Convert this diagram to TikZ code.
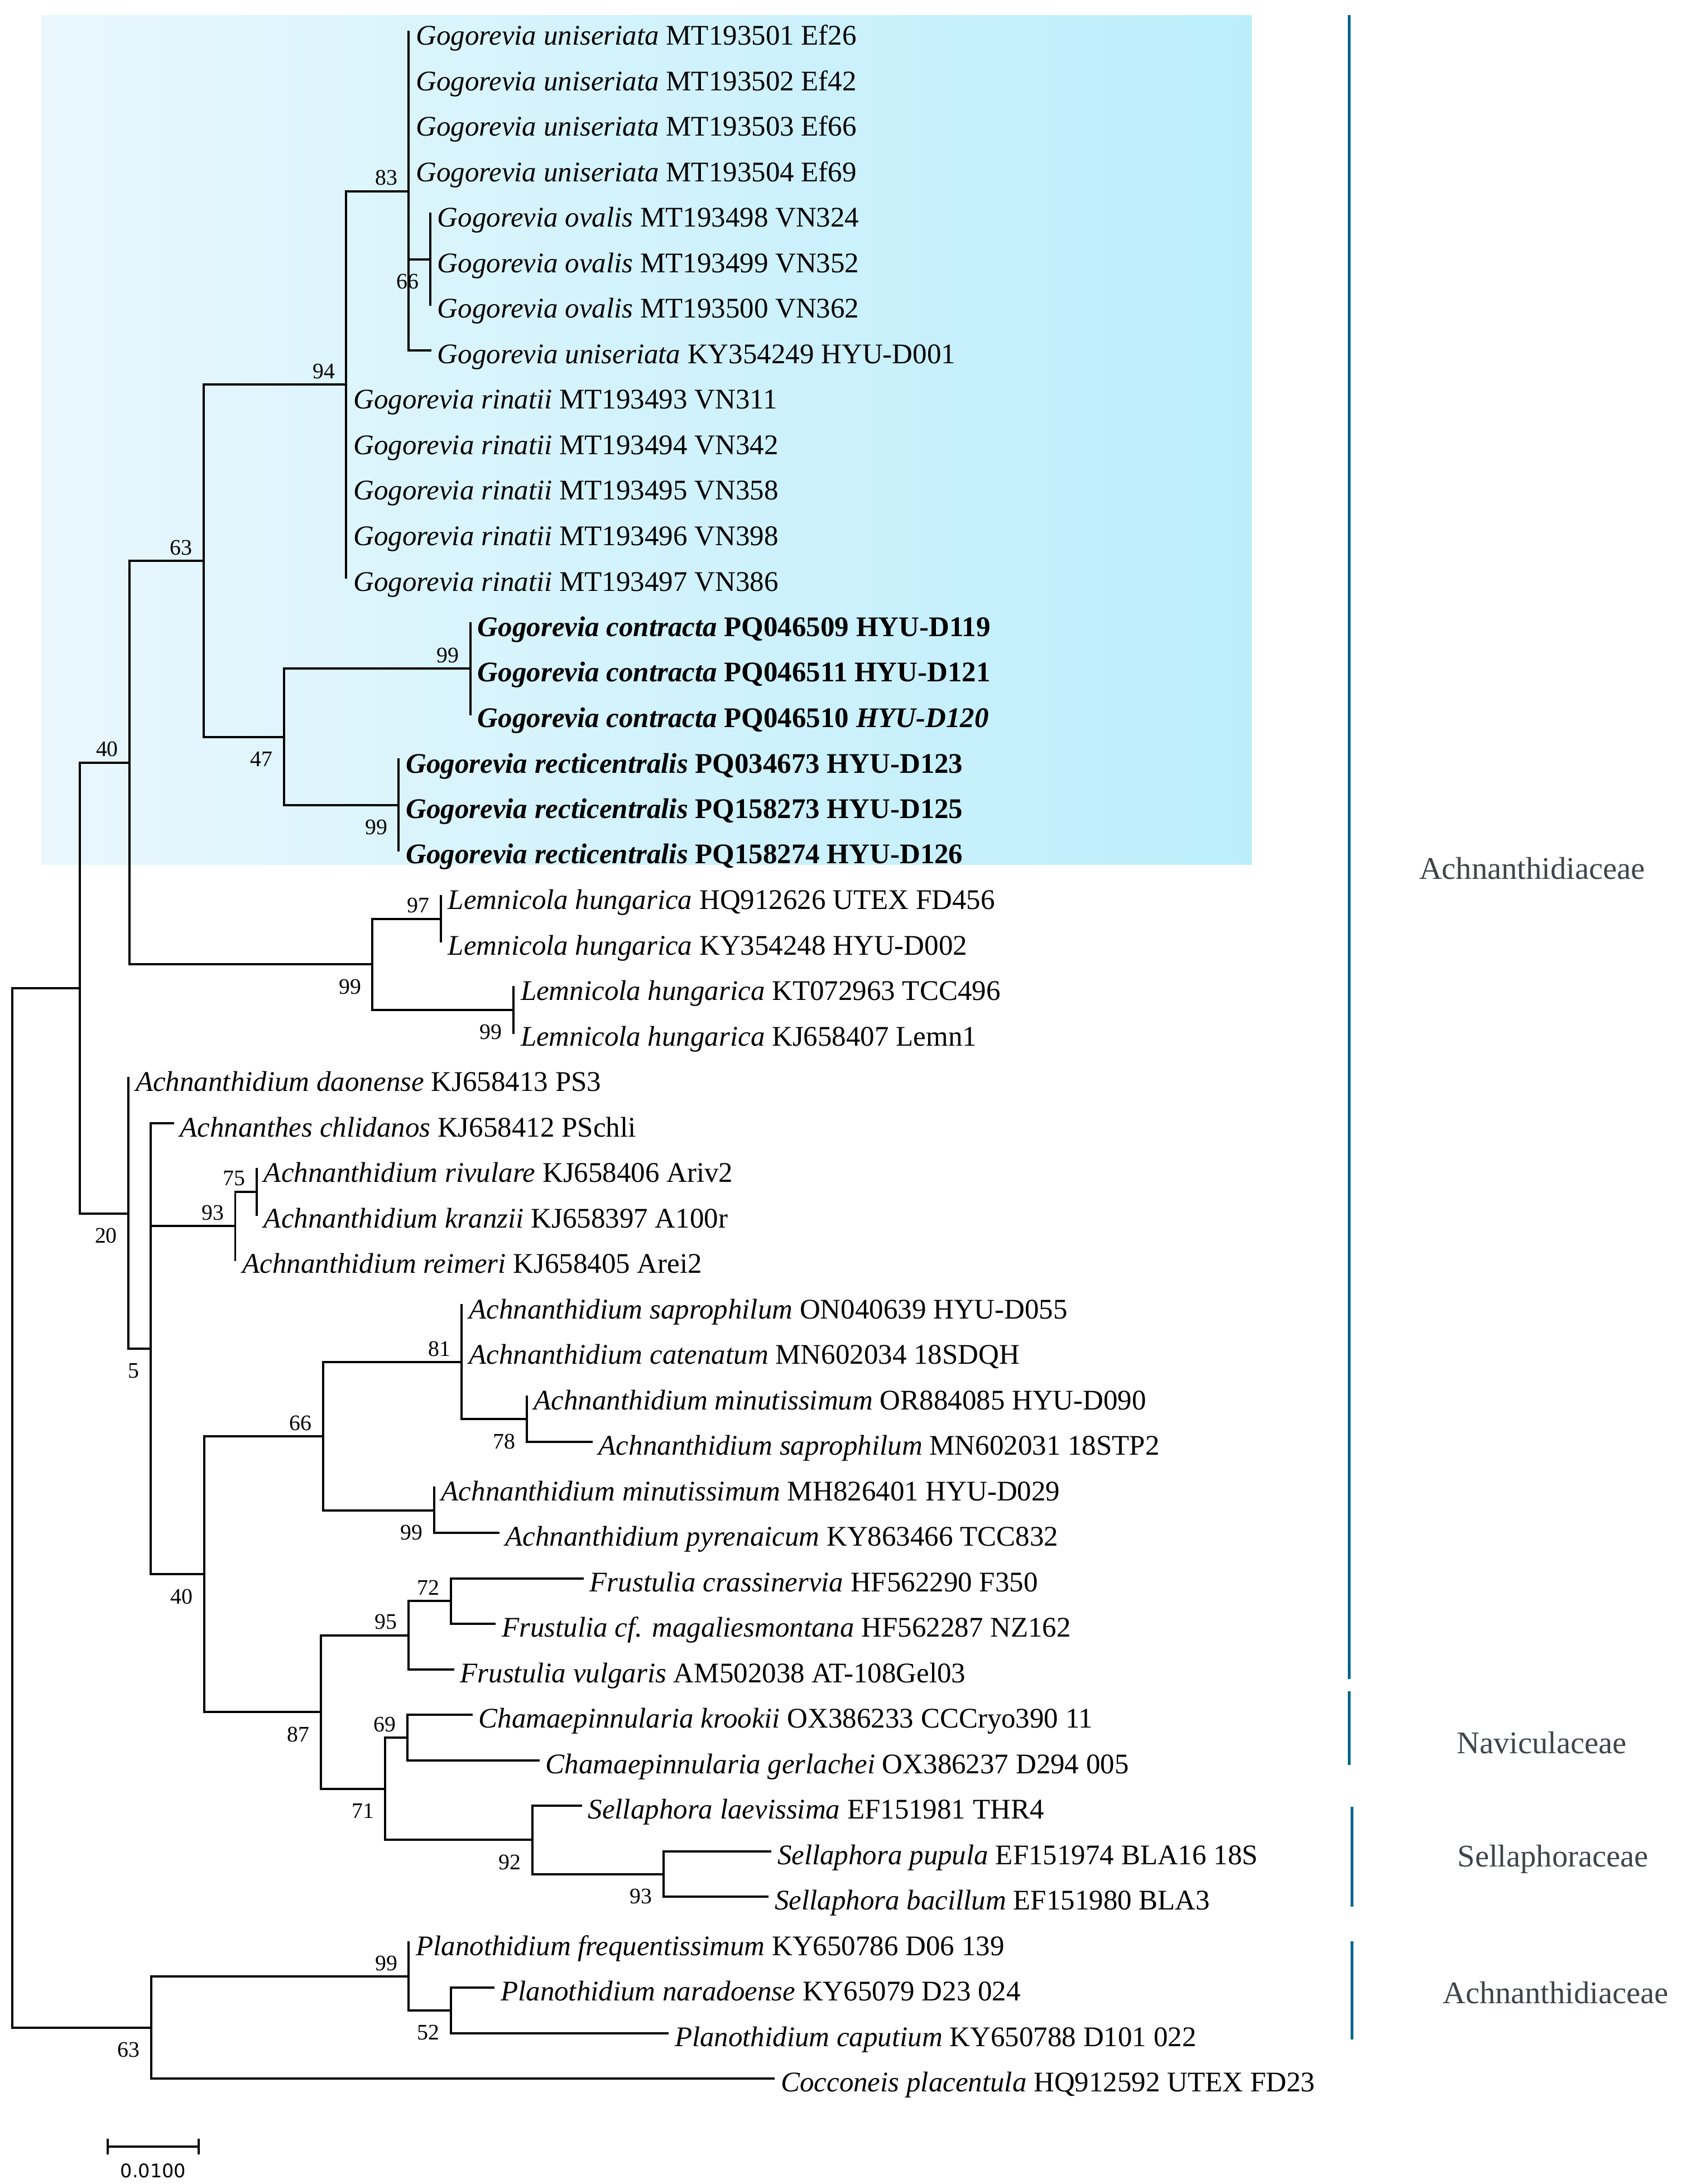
\documentclass[tikz,border=0pt]{standalone}
\usepackage{fontspec}
\setmainfont{Liberation Serif}
\newfontfamily\barfont{DejaVu Sans}

\definecolor{hlleft}{RGB}{233,247,253}
\definecolor{hlright}{RGB}{187,238,251}
\definecolor{clade}{RGB}{0,102,141}
\definecolor{famtext}{RGB}{64,68,74}

\tikzset{
	branch/.style={line width=1.6pt, line cap=rect},
	taxon/.style={anchor=base west, inner sep=0pt, xshift=5pt, yshift=-9.5pt, font=\fontsize{20.5}{24}\selectfont},
	bsup/.style={anchor=south east, inner sep=0pt, xshift=-8pt, yshift=4pt, font=\fontsize{16}{19}\selectfont},
	bsdown/.style={anchor=north east, inner sep=0pt, xshift=-8pt, yshift=-10.5pt, font=\fontsize{16}{19}\selectfont},
	cladebar/.style={draw=clade, line width=2pt},
	family/.style={inner sep=0pt, text=famtext, font=\fontsize{22.7}{26}\selectfont}
}

\begin{document}
\begin{tikzpicture}[x=1pt,y=-1pt]
		\useasboundingbox (0,0) rectangle (1211,1574);
		% highlighted Gogorevia clade
		\shade[left color=hlleft, right color=hlright] (30,11) rectangle (902,623);
		
		\begin{scope}[shift={(0,4)}]
		% tips
		\coordinate (l1) at (294.5,19.0);   \coordinate (l2) at (294.5,51.8);
		\coordinate (l3) at (294.5,84.6);   \coordinate (l4) at (294.5,117.3);
		\coordinate (l5) at (310,150.1);    \coordinate (l6) at (310,182.9);
		\coordinate (l7) at (310,215.7);    \coordinate (l8) at (310,248.5);
		\coordinate (l9) at (249.5,281.2);  \coordinate (l10) at (249.5,314.0);
		\coordinate (l11) at (249.5,346.8); \coordinate (l12) at (249.5,379.6);
		\coordinate (l13) at (249.5,412.4); \coordinate (l14) at (339,445.1);
		\coordinate (l15) at (339,477.9);   \coordinate (l16) at (339,510.7);
		\coordinate (l17) at (287.3,543.5); \coordinate (l18) at (287.3,576.3);
		\coordinate (l19) at (287.3,609.0); \coordinate (l20) at (317.7,641.8);
		\coordinate (l21) at (317.7,674.6); \coordinate (l22) at (370,707.4);
		\coordinate (l23) at (370,740.2);   \coordinate (l24) at (92.6,772.9);
		\coordinate (l25) at (124.5,805.7); \coordinate (l26) at (185,838.5);
		\coordinate (l27) at (185,871.3);   \coordinate (l28) at (169.5,904.1);
		\coordinate (l29) at (332.7,936.8); \coordinate (l30) at (332.7,969.6);
		\coordinate (l31) at (379.5,1002.4); \coordinate (l32) at (426.2,1035.2);
		\coordinate (l33) at (312.8,1068.0); \coordinate (l34) at (359,1100.7);
		\coordinate (l35) at (419.8,1133.5); \coordinate (l36) at (356.4,1166.3);
		\coordinate (l37) at (326.4,1199.1); \coordinate (l38) at (339.7,1231.9);
		\coordinate (l39) at (388,1264.6);   \coordinate (l40) at (418.5,1297.4);
		\coordinate (l41) at (555,1330.2);   \coordinate (l42) at (553,1363.0);
		\coordinate (l43) at (294.5,1395.8); \coordinate (l44) at (355.6,1428.5);
		\coordinate (l45) at (481,1461.3);   \coordinate (l46) at (557.5,1494.1);
		
		% internal nodes
		\coordinate (root) at (8.8,1082.6);    \coordinate (ingrp) at (57.5,708);
		\coordinate (gogolem) at (93.4,545.6); \coordinate (gogo) at (146.6,400.1);
		\coordinate (unirin) at (249.5,273.1); \coordinate (uni) at (294.5,133.8);
		\coordinate (ova) at (310,182.9);      \coordinate (conrec) at (204.7,527.1);
		\coordinate (con) at (339,477.9);      \coordinate (rec) at (287.3,576.3);
		\coordinate (lem) at (268.4,691);      \coordinate (lemA) at (317.7,658.2);
		\coordinate (lemB) at (370,723.8);     \coordinate (achA) at (92.6,870.5);
		\coordinate (achB) at (108.6,968.1);   \coordinate (achC) at (169.5,879.5);
		\coordinate (achD) at (185,854.9);     \coordinate (achE) at (147,1130.5);
		\coordinate (achF) at (232.7,1031.1);  \coordinate (achG) at (332.7,977.8);
		\coordinate (achH) at (379.5,1018.8);  \coordinate (achI) at (312.8,1084.4);
		\coordinate (fcs) at (231.2,1229.8);   \coordinate (fru) at (294.3,1174.5);
		\coordinate (fruA) at (325,1149.9);    \coordinate (chs) at (277.6,1285.1);
		\coordinate (cha) at (293.6,1248.3);   \coordinate (sel) at (383.6,1322);
		\coordinate (selA) at (478,1346.6);    \coordinate (plc) at (108.8,1457.2);
		\coordinate (pla) at (294.5,1420.4);   \coordinate (plaA) at (325,1444.9);
		
		% branches
		\draw[branch] (root) |- (ingrp) (root) |- (plc);
		\draw[branch] (ingrp) |- (gogolem) (ingrp) |- (achA);
		\draw[branch] (gogolem) |- (gogo) (gogolem) |- (lem);
		\draw[branch] (gogo) |- (unirin) (gogo) |- (conrec);
		\draw[branch] (unirin) |- (uni) (unirin) |- (l9) (unirin) |- (l13);
		\draw[branch] (uni) |- (l1) (uni) |- (ova) (uni) |- (l8);
		\draw[branch] (ova) |- (l5) (ova) |- (l7);
		\draw[branch] (conrec) |- (con) (conrec) |- (rec);
		\draw[branch] (con) |- (l14) (con) |- (l16);
		\draw[branch] (rec) |- (l17) (rec) |- (l19);
		\draw[branch] (lem) |- (lemA) (lem) |- (lemB);
		\draw[branch] (lemA) |- (l20) (lemA) |- (l21);
		\draw[branch] (lemB) |- (l22) (lemB) |- (l23);
		\draw[branch] (achA) |- (l24) (achA) |- (achB);
		\draw[branch] (achB) |- (l25) (achB) |- (achC) (achB) |- (achE);
		\draw[branch] (achC) |- (achD) (achC) |- (l28);
		\draw[branch] (achD) |- (l26) (achD) |- (l27);
		\draw[branch] (achE) |- (achF) (achE) |- (fcs);
		\draw[branch] (achF) |- (achG) (achF) |- (achI);
		\draw[branch] (achG) |- (l29) (achG) |- (achH);
		\draw[branch] (achH) |- (l31) (achH) |- (l32);
		\draw[branch] (achI) |- (l33) (achI) |- (l34);
		\draw[branch] (fcs) |- (fru) (fcs) |- (chs);
		\draw[branch] (fru) |- (fruA) (fru) |- (l37);
		\draw[branch] (fruA) |- (l35) (fruA) |- (l36);
		\draw[branch] (chs) |- (cha) (chs) |- (sel);
		\draw[branch] (cha) |- (l38) (cha) |- (l39);
		\draw[branch] (sel) |- (l40) (sel) |- (selA);
		\draw[branch] (selA) |- (l41) (selA) |- (l42);
		\draw[branch] (plc) |- (pla) (plc) |- (l46);
		\draw[branch] (pla) |- (l43) (pla) |- (plaA);
		\draw[branch] (plaA) |- (l44) (plaA) |- (l45);
		
		% bootstrap values
		\node[bsup] (b1) at (uni) {83};      \node[bsdown] (b2) at (ova) {66};
		\node[bsup] (b3) at (unirin) {94};   \node[bsup] (b4) at (gogo) {63};
		\node[bsup] (b5) at (con) {99};      \node[bsdown] (b6) at (conrec) {47};
		\node[bsdown] (b7) at (rec) {99};    \node[bsup] (b8) at (gogolem) {40};
		\node[bsup] (b9) at (lemA) {97};     \node[bsdown] (b10) at (lem) {99};
		\node[bsdown] (b11) at (lemB) {99};  \node[bsdown] (b12) at (achA) {20};
		\node[bsdown] (b13) at (achB) {5};   \node[bsup] (b14) at (achD) {75};
		\node[bsup] (b15) at (achC) {93};    \node[bsup] (b16) at (achG) {81};
		\node[bsdown] (b17) at (achH) {78};  \node[bsup] (b18) at (achF) {66};
		\node[bsdown] (b19) at (achI) {99};  \node[bsdown] (b20) at (achE) {40};
		\node[bsup] (b21) at (fruA) {72};    \node[bsup] (b22) at (fru) {95};
		\node[bsup] (b23) at (cha) {69};     \node[bsdown] (b24) at (fcs) {87};
		\node[bsdown] (b25) at (chs) {71};   \node[bsdown] (b26) at (sel) {92};
		\node[bsdown] (b27) at (selA) {93};  \node[bsup] (b28) at (pla) {99};
		\node[bsdown] (b29) at (plaA) {52};  \node[bsdown] (b30) at (plc) {63};
		
		% taxa
		\node[taxon] (t1) at (l1) {\textit{Gogorevia uniseriata} MT193501 Ef26};
		\node[taxon] (t2) at (l2) {\textit{Gogorevia uniseriata} MT193502 Ef42};
		\node[taxon] (t3) at (l3) {\textit{Gogorevia uniseriata} MT193503 Ef66};
		\node[taxon] (t4) at (l4) {\textit{Gogorevia uniseriata} MT193504 Ef69};
		\node[taxon] (t5) at (l5) {\textit{Gogorevia ovalis} MT193498 VN324};
		\node[taxon] (t6) at (l6) {\textit{Gogorevia ovalis} MT193499 VN352};
		\node[taxon] (t7) at (l7) {\textit{Gogorevia ovalis} MT193500 VN362};
		\node[taxon] (t8) at (l8) {\textit{Gogorevia uniseriata} KY354249 HYU-D001};
		\node[taxon] (t9) at (l9) {\textit{Gogorevia rinatii} MT193493 VN311};
		\node[taxon] (t10) at (l10) {\textit{Gogorevia rinatii} MT193494 VN342};
		\node[taxon] (t11) at (l11) {\textit{Gogorevia rinatii} MT193495 VN358};
		\node[taxon] (t12) at (l12) {\textit{Gogorevia rinatii} MT193496 VN398};
		\node[taxon] (t13) at (l13) {\textit{Gogorevia rinatii} MT193497 VN386};
		\node[taxon] (t14) at (l14) {\textbf{\textit{Gogorevia contracta} PQ046509 HYU-D119}};
		\node[taxon] (t15) at (l15) {\textbf{\textit{Gogorevia contracta} PQ046511 HYU-D121}};
		\node[taxon] (t16) at (l16) {\textbf{\textit{Gogorevia contracta} PQ046510 \textit{HYU-D120}}};
		\node[taxon] (t17) at (l17) {\textbf{\textit{Gogorevia recticentralis} PQ034673 HYU-D123}};
		\node[taxon] (t18) at (l18) {\textbf{\textit{Gogorevia recticentralis} PQ158273 HYU-D125}};
		\node[taxon] (t19) at (l19) {\textbf{\textit{Gogorevia recticentralis} PQ158274 HYU-D126}};
		\node[taxon] (t20) at (l20) {\textit{Lemnicola hungarica} HQ912626 UTEX FD456};
		\node[taxon] (t21) at (l21) {\textit{Lemnicola hungarica} KY354248 HYU-D002};
		\node[taxon] (t22) at (l22) {\textit{Lemnicola hungarica} KT072963 TCC496};
		\node[taxon] (t23) at (l23) {\textit{Lemnicola hungarica} KJ658407 Lemn1};
		\node[taxon] (t24) at (l24) {\textit{Achnanthidium daonense} KJ658413 PS3};
		\node[taxon] (t25) at (l25) {\textit{Achnanthes chlidanos} KJ658412 PSchli};
		\node[taxon] (t26) at (l26) {\textit{Achnanthidium rivulare} KJ658406 Ariv2};
		\node[taxon] (t27) at (l27) {\textit{Achnanthidium kranzii} KJ658397 A100r};
		\node[taxon] (t28) at (l28) {\textit{Achnanthidium reimeri} KJ658405 Arei2};
		\node[taxon] (t29) at (l29) {\textit{Achnanthidium saprophilum} ON040639 HYU-D055};
		\node[taxon] (t30) at (l30) {\textit{Achnanthidium catenatum} MN602034 18SDQH};
		\node[taxon] (t31) at (l31) {\textit{Achnanthidium minutissimum} OR884085 HYU-D090};
		\node[taxon] (t32) at (l32) {\textit{Achnanthidium saprophilum} MN602031 18STP2};
		\node[taxon] (t33) at (l33) {\textit{Achnanthidium minutissimum} MH826401 HYU-D029};
		\node[taxon] (t34) at (l34) {\textit{Achnanthidium pyrenaicum} KY863466 TCC832};
		\node[taxon] (t35) at (l35) {\textit{Frustulia crassinervia} HF562290 F350};
		\node[taxon] (t36) at (l36) {\textit{Frustulia cf. magaliesmontana} HF562287 NZ162};
		\node[taxon] (t37) at (l37) {\textit{Frustulia vulgaris} AM502038 AT-108Gel03};
		\node[taxon] (t38) at (l38) {\textit{Chamaepinnularia krookii} OX386233 CCCryo390 11};
		\node[taxon] (t39) at (l39) {\textit{Chamaepinnularia gerlachei} OX386237 D294 005};
		\node[taxon] (t40) at (l40) {\textit{Sellaphora laevissima} EF151981 THR4};
		\node[taxon] (t41) at (l41) {\textit{Sellaphora pupula} EF151974 BLA16 18S};
		\node[taxon] (t42) at (l42) {\textit{Sellaphora bacillum} EF151980 BLA3};
		\node[taxon] (t43) at (l43) {\textit{Planothidium frequentissimum} KY650786 D06 139};
		\node[taxon] (t44) at (l44) {\textit{Planothidium naradoense} KY65079 D23 024};
		\node[taxon] (t45) at (l45) {\textit{Planothidium caputium} KY650788 D101 022};
		\node[taxon] (t46) at (l46) {\textit{Cocconeis placentula} HQ912592 UTEX FD23};
		\end{scope}
		
		% families
		\coordinate (f1a) at (972,11);    \coordinate (f1b) at (972,1210);
		\coordinate (f2a) at (972,1219);  \coordinate (f2b) at (972,1272);
		\coordinate (f3a) at (974,1302);  \coordinate (f3b) at (974,1374);
		\coordinate (f4a) at (974,1399);  \coordinate (f4b) at (974,1470);
		\draw[cladebar] (f1a) -- (f1b); \draw[cladebar] (f2a) -- (f2b);
		\draw[cladebar] (f3a) -- (f3b); \draw[cladebar] (f4a) -- (f4b);
		\node[family] (fam1) at (1104,626) {Achnanthidiaceae};
		\node[family] (fam2) at (1111,1256) {Naviculaceae};
		\node[family] (fam3) at (1119,1340) {Sellaphoraceae};
		\node[family] (fam4) at (1121,1436) {Achnanthidiaceae};
		
		% scale bar
		\coordinate (sbl) at (77.7,1547); \coordinate (sbr) at (143.1,1547);
		\draw[branch, line cap=butt] (sbl) -- (sbr);
		\draw[branch, line cap=butt] ([yshift=5.7pt]sbl) -- ([yshift=-5.7pt]sbl);
		\draw[branch, line cap=butt] ([yshift=5.7pt]sbr) -- ([yshift=-5.7pt]sbr);
		\node[anchor=north, inner sep=0pt, font=\barfont\fontsize{13.5}{16}\selectfont] (sblab) at (110.4,1559) {0.0100};
		\end{tikzpicture}
\end{document}
